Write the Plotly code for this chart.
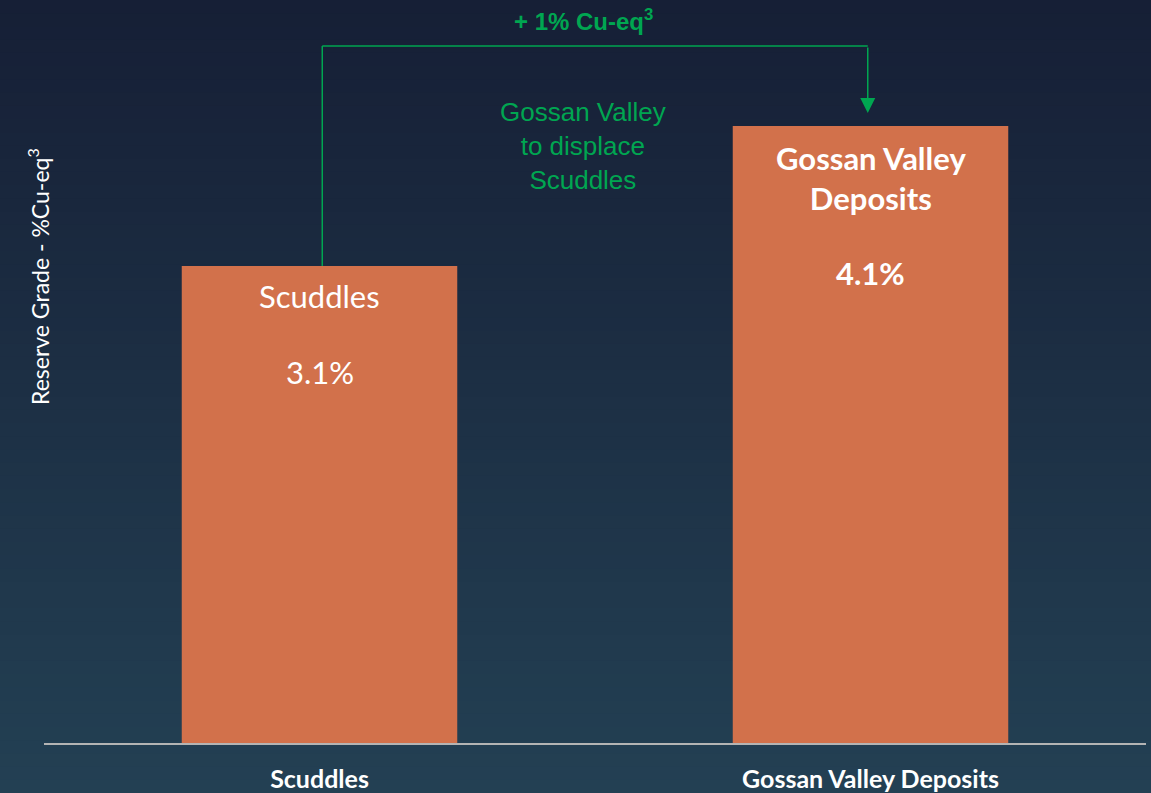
import plotly.graph_objects as go

categories = ["Scuddles", "Gossan Valley Deposits"]
values = [3.17, 4.1]
value_labels = ["3.1%", "4.1%"]
bar_names = ["Scuddles", "<b>Gossan Valley<br>Deposits</b>"]
value_texts = ["3.1%", "<b>4.1%</b>"]
y_title = "Reserve Grade - %Cu-eq<sup>3</sup>"
bracket_label = "<b>+ 1% Cu-eq<sup>3</sup></b>"
middle_note = "Gossan Valley<br>to displace<br>Scuddles"

BAR = "#d2714b"
GREEN = "#00a651"
TOP = (0x16, 0x1f, 0x36)
BOT = (0x23, 0x40, 0x53)

W, H = 1151, 793
ML, MR, MT, MB = 44, 5, 43, 50
plot_h = H - MT - MB
px_per_unit = 150.5
ymax = plot_h / px_per_unit


def py(px):
    """pixel row -> paper y"""
    return (H - MB - px) / plot_h


fig = go.Figure()
fig.add_trace(go.Bar(
    x=categories, y=values, marker=dict(color=BAR, line=dict(width=0)),
    width=0.5, hoverinfo="skip",
))

shapes = []
n = 60
for i in range(n):
    t = i / (n - 1)
    c = tuple(round(TOP[k] + (BOT[k] - TOP[k]) * t) for k in range(3))
    y0_px = H * i / n
    y1_px = H * (i + 1) / n + 1
    shapes.append(dict(
        type="rect", xref="paper", yref="paper", layer="below",
        x0=-0.1, x1=1.1, y0=py(y1_px), y1=py(y0_px),
        fillcolor="rgb(%d,%d,%d)" % c, line=dict(width=0),
    ))

bracket_y = (H - MB - 46) / px_per_unit
shapes.append(dict(type="line", xref="x", yref="y", x0=0.005, x1=0.005,
                   y0=values[0], y1=bracket_y, line=dict(color=GREEN, width=1.5)))
shapes.append(dict(type="line", xref="x", yref="y", x0=0.005, x1=0.995,
                   y0=bracket_y, y1=bracket_y, line=dict(color=GREEN, width=1.5)))

annotations = [
    dict(x=0.995, y=values[1], ax=0.995, ay=bracket_y, xref="x", yref="y",
         axref="x", ayref="y", text="", showarrow=True, arrowhead=2,
         arrowsize=2, arrowwidth=1.5, arrowcolor=GREEN, standoff=13),
    dict(x=0.479, y=py(20), xref="x", yref="paper",
         text=bracket_label, showarrow=False, yanchor="middle",
         font=dict(family="Arial, Liberation Sans", size=24, color=GREEN)),
    dict(x=0.479, y=py(146), xref="x", yref="paper",
         text=middle_note, showarrow=False, yanchor="middle",
         font=dict(family="Arial, Liberation Sans", size=26, color=GREEN)),
    dict(x=categories[0], y=values[0], xref="x", yref="y", yshift=-30,
         text=bar_names[0], showarrow=False, yanchor="middle",
         font=dict(family="Lato", size=31, color="white")),
    dict(x=categories[0], y=values[0], xref="x", yref="y", yshift=-106,
         text=value_texts[0], showarrow=False, yanchor="middle",
         font=dict(family="Lato", size=31, color="white")),
    dict(x=categories[1], y=values[1], xref="x", yref="y", yshift=-52,
         text=bar_names[1], showarrow=False, yanchor="middle",
         font=dict(family="Lato", size=31, color="white")),
    dict(x=categories[1], y=values[1], xref="x", yref="y", yshift=-147,
         text=value_texts[1], showarrow=False, yanchor="middle",
         font=dict(family="Lato", size=31, color="white")),
    dict(x=(38 - ML) / (W - ML - MR), y=py(277),
         xref="paper", yref="paper", text=y_title, showarrow=False,
         textangle=-90, xanchor="center", yanchor="middle",
         font=dict(family="Lato", size=23, color="white")),
]

fig.update_layout(
    width=W, height=H,
    margin=dict(l=ML, r=MR, t=MT, b=MB, autoexpand=False),
    paper_bgcolor="rgb(29,47,69)",
    plot_bgcolor="rgba(0,0,0,0)",
    showlegend=False,
    shapes=shapes,
    annotations=annotations,
    xaxis=dict(
        type="category", range=[-0.5, 1.5], automargin=False,
        showline=True, linecolor="#b4b4b4", linewidth=2,
        showgrid=False, zeroline=False,
        ticks="outside", ticklen=13, tickcolor="rgba(0,0,0,0)",
        tickfont=dict(family="Lato", size=25, color="white"),
        tickvals=categories, ticktext=["<b>%s</b>" % c for c in categories],
    ),
    yaxis=dict(range=[0, ymax], visible=False, showgrid=False, zeroline=False,
               automargin=False),
)

fig.write_html("out.html", config={"displayModeBar": False},
               post_script="document.body.style.margin='0';")
